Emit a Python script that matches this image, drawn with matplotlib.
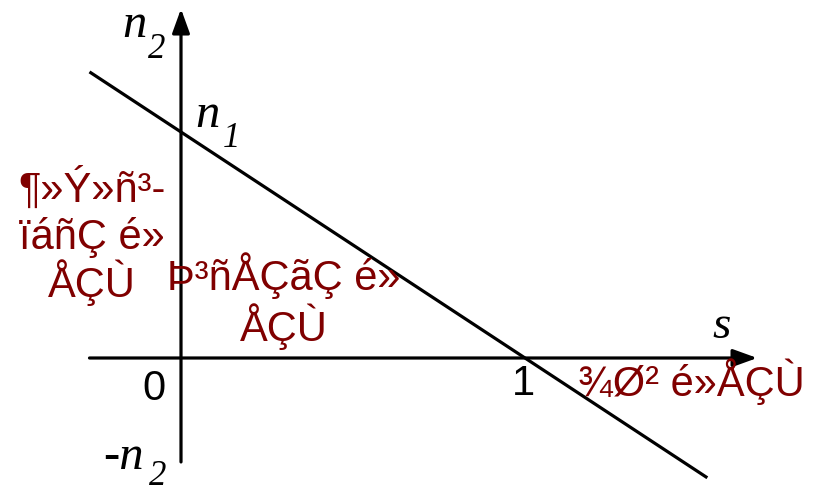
import matplotlib
matplotlib.use("Agg")
import matplotlib.pyplot as plt
from matplotlib.patches import FancyArrowPatch

# slip s on the horizontal axis, speed n (in units of n1) on the vertical
n1 = 1.0
s_sync = 1.0
s_line = [-0.266, 1.53]           # extent of the characteristic line
s_axis = [-0.266, 1.675]          # horizontal axis extent
n_axis = [-0.46, 1.545]           # vertical axis extent

# region labels (kept as in the source)
left_lines = ["¶»Ý»ñ³-", "ïáñÇ é»", "ÅÇÙ"]
mid_lines = ["Þ³ñÅÇãÇ é»", "ÅÇÙ"]
right_label = "¾Ø² é»ÅÇÙ"

RED = "#800000"
SANS = "Liberation Sans"
SERIF = "Liberation Serif"

# pixel -> data helpers (origin at px (181, 358))
PX0, PY0, SX, SY = 181, 358, 344, 226


def sd(px):
    return (px - PX0) / SX


def nd(py):
    return (PY0 - py) / SY


fig = plt.figure(figsize=(8.13, 4.93), dpi=100)
ax = fig.add_axes([0, 0, 1, 1])
ax.set_xlim(sd(0), sd(813))
ax.set_ylim(nd(493), nd(0))
ax.axis("off")

# axes with arrows
for start, end in [((s_axis[0], 0), (s_axis[1], 0)), ((0, n_axis[0]), (0, n_axis[1]))]:
    ax.add_patch(FancyArrowPatch(start, end, arrowstyle="-|>,head_length=1.05,head_width=0.38",
                                 mutation_scale=14, lw=2.3, color="black",
                                 shrinkA=0, shrinkB=0))

# characteristic n = n1 (1 - s)
n_line = [n1 * (1 - s / s_sync) for s in s_line]
ax.plot(s_line, n_line, color="black", lw=2.3, solid_capstyle="butt")

# axis / tick labels
ax.text(sd(165), nd(400), "0", fontsize=30, family=SANS, ha="right", va="baseline")
ax.text(s_sync - 0.005, nd(395), "1", fontsize=30, family=SANS, ha="center", va="baseline")
ax.text(sd(712), nd(338), "s", fontsize=34, family=SERIF, style="italic", va="baseline")

# n2 on top
ax.text(sd(122), nd(37), "n", fontsize=35, family=SERIF, style="italic", va="baseline")
ax.text(sd(148), nd(58), "2", fontsize=25, family=SERIF, style="italic", va="baseline")
# n1 at intercept
ax.text(sd(195), nd(127), "n", fontsize=35, family=SERIF, style="italic", va="baseline")
ax.text(sd(223), nd(147), "1", fontsize=25, family=SERIF, style="italic", va="baseline")
# -n2 at bottom
ax.text(sd(103), nd(469), "-n", fontsize=35, family=SERIF, style="italic", va="baseline")
ax.text(sd(149), nd(485), "2", fontsize=25, family=SERIF, style="italic", va="baseline")

# region labels
for line, py in zip(left_lines, [202, 249, 297]):
    ax.text(sd(92), nd(py), line, fontsize=30, family=SANS, color=RED,
            ha="center", va="baseline")
for line, py in zip(mid_lines, [290, 341]):
    ax.text(sd(284), nd(py), line, fontsize=30, family=SANS, color=RED,
            ha="center", va="baseline")
ax.text(sd(578), nd(396), right_label, fontsize=30, family=SANS, color=RED,
        ha="left", va="baseline")

fig.savefig("out.png", dpi=100)
